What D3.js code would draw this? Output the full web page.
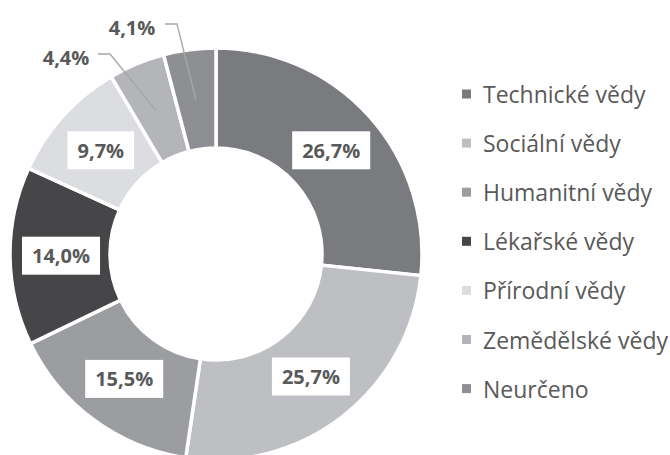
<!DOCTYPE html>
<html><head><meta charset="utf-8">
<script src="https://cdn.jsdelivr.net/npm/d3@7"></script>
<style>body{margin:0;background:#fff;}svg{display:block;}</style>
</head><body>
<svg id="chart" width="670" height="455"></svg>
<script>
const categories = ["Technické vědy","Sociální vědy","Humanitní vědy","Lékařské vědy","Přírodní vědy","Zemědělské vědy","Neurčeno"];
const values = [26.7, 25.7, 15.5, 14.0, 9.7, 4.4, 4.1];
const labels = ["26,7%","25,7%","15,5%","14,0%","9,7%","4,4%","4,1%"];
const colors = ["#7a7b7f","#bebfc2","#9c9da1","#464648","#dcdde0","#b4b5b8","#8e8f93"];

const svg = d3.select("#chart");
const cx = 216, cy = 254, rOuter = 206, rInner = 106;
const g = svg.append("g").attr("transform", `translate(${cx},${cy})`);

const pie = d3.pie().sort(null).value(d => d.v);
const data = categories.map((c,i)=>({c, v: values[i], label: labels[i], color: colors[i]}));
const arcs = pie(data);
const arc = d3.arc().innerRadius(rInner).outerRadius(rOuter);
const labelArc = d3.arc().innerRadius(155).outerRadius(155);

g.selectAll("path.slice").data(arcs).enter().append("path")
  .attr("class","slice")
  .attr("d", arc)
  .attr("fill", d => d.data.color)
  .attr("stroke", "#fff").attr("stroke-width", 3.5).attr("stroke-linejoin","miter");

// Outside labels (small slices): label text anchor position relative to centre
const outside = {
  "Zemědělské vědy": {elbow: [-106, -200], text: [-150, -197]},
  "Neurčeno": {elbow: [-39, -230], text: [-84, -227]}
};

const font = "'Open Sans', 'DejaVu Sans', sans-serif";
arcs.forEach(d => {
  const [x, y] = labelArc.centroid(d);
  const o = outside[d.data.c];
  if (o) {
    const [ex, ey] = o.elbow;
    g.append("polyline")
      .attr("points", [[ex-12, ey], [ex, ey], [x, y]].map(p=>p.join(",")).join(" "))
      .attr("fill","none").attr("stroke","#a6a6a6").attr("stroke-width",1.3);
    g.append("text")
      .attr("x", o.text[0]).attr("y", o.text[1])
      .attr("text-anchor","middle").attr("dominant-baseline","central")
      .attr("font-family", font).attr("font-weight", 700).attr("font-size", 20)
      .attr("fill","#595959").text(d.data.label);
  } else {
    const t = g.append("text")
      .attr("x", x).attr("y", y)
      .attr("text-anchor","middle").attr("dominant-baseline","central")
      .attr("font-family", font).attr("font-weight", 700).attr("font-size", 20)
      .attr("fill","#595959").text(d.data.label);
    const bb = t.node().getBBox();
    g.insert("rect", "text")
      .attr("x", x - bb.width/2 - 10).attr("y", y - 19)
      .attr("width", bb.width + 20).attr("height", 38)
      .attr("fill", "#fff");
    t.raise();
  }
});

// Legend
const legend = svg.append("g").attr("transform","translate(462,94)");
const rowH = 49.1;
const items = legend.selectAll("g").data(data).enter().append("g")
  .attr("transform", (d,i)=>`translate(0,${i*rowH})`);
items.append("rect").attr("x",0).attr("y",-4.5).attr("width",9).attr("height",9).attr("fill", d=>d.color);
items.append("text").attr("x", 21).attr("y", 0).attr("dominant-baseline","central")
  .attr("font-family", font).attr("font-size", 23).attr("fill","#595959").text(d=>d.c);
</script>
</body></html>
